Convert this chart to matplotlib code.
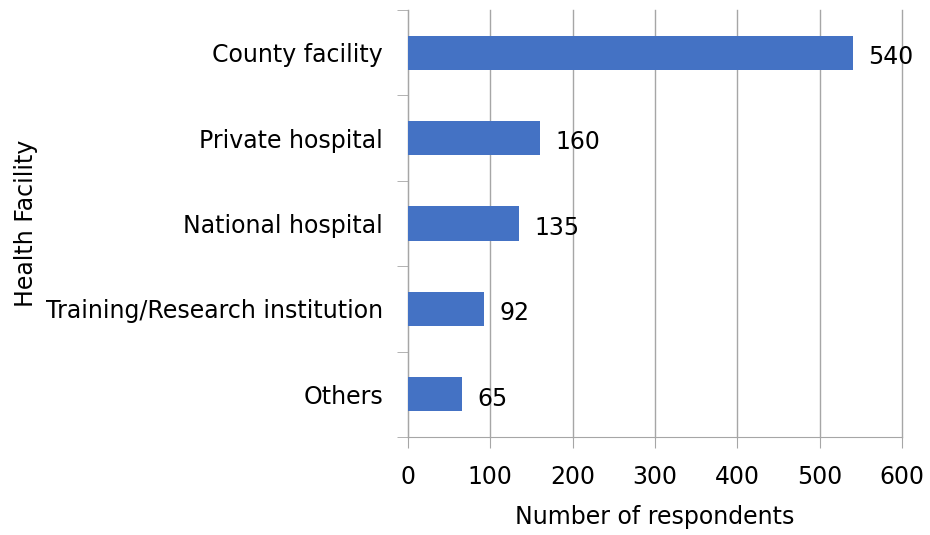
import matplotlib.pyplot as plt

plt.rcParams["font.family"] = "DejaVu Sans"

facilities = ["County facility", "Private hospital", "National hospital",
              "Training/Research institution", "Others"]
respondents = [540, 160, 135, 92, 65]
x_ticks = [0, 100, 200, 300, 400, 500, 600]

fs = 17

fig = plt.figure(figsize=(9.3, 5.35), dpi=100)
ax = fig.add_axes([0.4387, 0.1832, 0.5312, 0.7981])

pos = list(range(len(facilities)))[::-1]
ax.barh(pos, respondents, height=0.4, color="#4472C4", zorder=3)

for y, v in zip(pos, respondents):
    ax.text(v + 19, y - 0.05, str(v), va="center", ha="left", fontsize=fs, zorder=4)

ax.set_xlim(0, 600)
ax.set_ylim(-0.5, len(facilities) - 0.5)
ax.set_xticks(x_ticks)
ax.set_yticks(pos)
ax.set_yticklabels(facilities)
ax.tick_params(axis="y", length=0, pad=18, labelsize=fs)
ax.tick_params(axis="x", length=8, color="#a6a6a6", labelsize=fs, pad=12)
# category boundary ticks on the left axis
ax.set_yticks([p + 0.5 for p in range(-1, len(facilities))], minor=True)
ax.tick_params(axis="y", which="minor", length=8, color="#a6a6a6")

ax.grid(axis="x", color="#a6a6a6", linewidth=1, zorder=0)
for line in ax.get_xgridlines():
    line.set_clip_on(False)
for s in ["top", "right"]:
    ax.spines[s].set_visible(False)
for s in ["left", "bottom"]:
    ax.spines[s].set_color("#a6a6a6")

ax.set_xlabel("Number of respondents", fontsize=fs, labelpad=12)
ax.set_ylabel("Health Facility", fontsize=fs, labelpad=6)

fig.savefig("out.png", dpi=100)
